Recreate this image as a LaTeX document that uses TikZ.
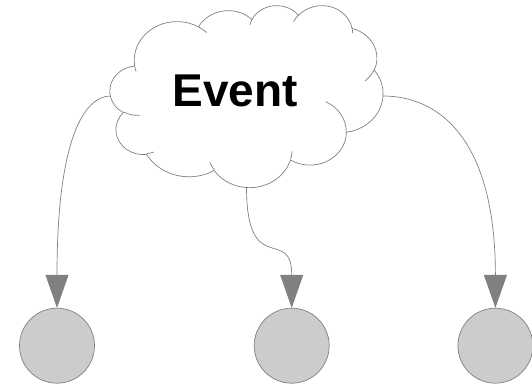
\documentclass[tikz,border=0pt]{standalone}
\usepackage{fontspec}
\setmainfont{Liberation Sans}
\usepackage{tikz}
\usepackage{xcolor}
\usetikzlibrary{arrows.meta}
\definecolor{EventGray}{HTML}{808080}
\definecolor{EventLight}{HTML}{CCCCCC}
\definecolor{EventBlack}{HTML}{000000}
\tikzset{
    % Cloud outline style
    cloudline/.style={
        draw=EventGray,
        line width=0.7pt,
        line join=round
    },
    % Label style
    eventlabel/.style={
        inner sep=0pt,
        text=EventBlack,
        font=\fontsize{46}{55}\selectfont\bfseries
    },
    % Target node style
    targetnode/.style={
        circle,
        draw=EventGray,
        fill=EventLight,
        line width=0.7pt,
        minimum size=75pt,
        inner sep=0pt
    },
    % Arrow style (curved connectors)
    myarrow/.style={
        -{Triangle[width=23pt,length=33pt]},
        line width=0.7pt,
        draw=EventGray
    }
}
\begin{document}
\begin{tikzpicture}[x=1pt, y=-1pt,
    declare function={parang(\ang,\rx,\ry)=atan2(\rx*sin(\ang),\ry*cos(\ang));}]
        \useasboundingbox (0,0) rectangle (532,387);

        % Cloud
        \begin{scope}[shift={(110,5)}, x=6.319pt, y=-4.213pt]
            \draw[cloudline] (3.9,14.37)
                \foreach \wR/\hR/\stA/\swA in {
                    6.753/9.190/-190.487/123.781, 5.333/7.267/-144.102/89.945,
                    4.365/5.945/-145.808/99.723, 4.857/6.595/-130.986/117.242,
                    5.333/7.273/-78.709/109.027, 6.775/9.220/-46.267/130.269,
                    5.785/7.867/0.625/114.033, 6.752/9.215/22.452/115.173,
                    7.720/10.543/66.243/75.711, 4.360/5.918/-274.942/146.736,
                    4.345/5.945/-246.829/152.519}
                {arc[start angle={parang(\stA,\wR,\hR)},
                     delta angle={mod(parang(\stA+\swA,\wR,\hR)-parang(\stA,\wR,\hR)+720,360)},
                     x radius=\wR, y radius=\hR]}
                -- cycle;
            \foreach \px/\py/\wR/\hR/\stA/\swA in {
                4.693/26.177/4.345/5.945/86.742/26.430, 6.928/34.899/4.360/5.918/73.611/11.447,
                16.478/39.090/6.752/9.215/137.624/14.081, 28.827/34.751/6.752/9.215/6.453/15.998,
                34.129/22.954/5.785/7.867/-70.292/70.917, 41.798/15.354/5.333/7.273/30.318/27.752,
                38.324/5.426/4.857/6.595/-13.744/14.859, 29.078/3.952/4.857/6.595/-149.181/18.195,
                22.141/4.720/4.365/5.945/-163.494/17.692, 14.000/5.192/6.753/9.190/-66.707/12.319,
                4.127/15.789/6.753/9.190/157.654/11.858}
                \draw[cloudline] (\px,\py)
                    arc[start angle={parang(\stA,\wR,\hR)},
                        delta angle={mod(parang(\stA+\swA,\wR,\hR)-parang(\stA,\wR,\hR)+720,360)},
                        x radius=\wR, y radius=\hR];
        \end{scope}
        \node[eventlabel] (event) at (235,91) {Event};

        % Connection points
        \coordinate (cloud-w) at (110.8,96);
        \coordinate (cloud-s) at (246.5,186.8);
        \coordinate (cloud-e) at (382.7,96);

        % Targets
        \node[targetnode] (left) at (57,345.7) {};
        \node[targetnode] (middle) at (291.7,345.7) {};
        \node[targetnode] (right) at (495.4,345.7) {};

        % Arrows
        \draw[myarrow] (cloud-w) .. controls +(-27,0) and +(0,-168) .. (left.north);
        \draw[myarrow] (cloud-s) .. controls +(0,93) and +(0,-83) .. (middle.north);
        \draw[myarrow] (cloud-e) .. controls +(57,0) and +(0,-168) .. (right.north);
    \end{tikzpicture}
\end{document}
